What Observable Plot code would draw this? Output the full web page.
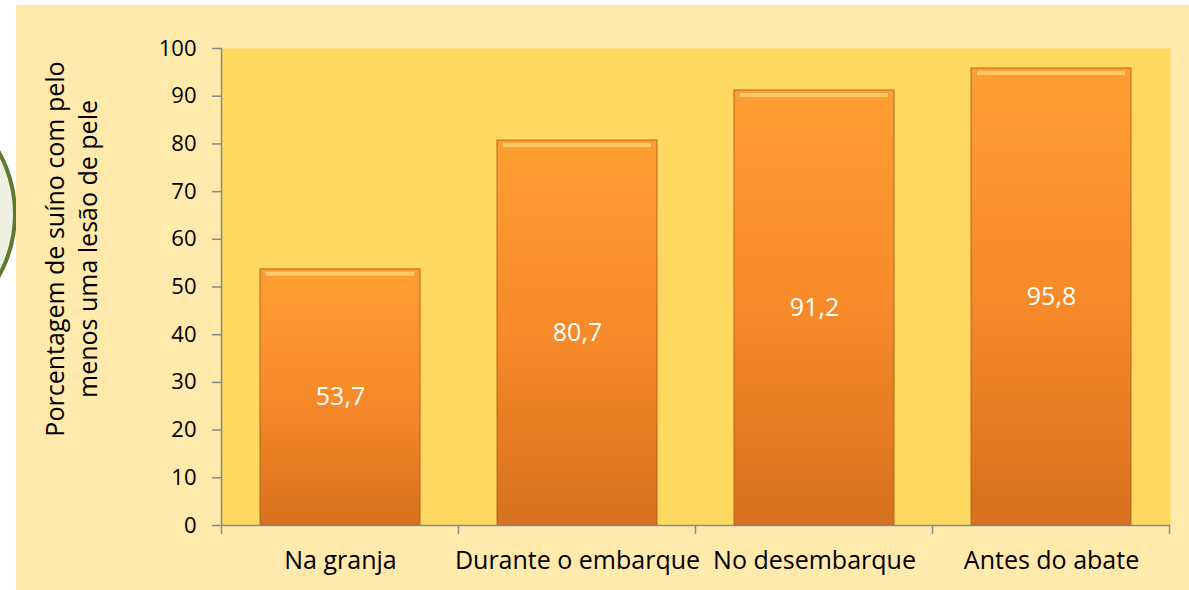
<!DOCTYPE html>
<html><head><meta charset="utf-8">
<script src="https://cdn.jsdelivr.net/npm/d3@7"></script>
<script src="https://cdn.jsdelivr.net/npm/@observablehq/plot@0.6"></script>
<style>
body{margin:0;background:#fff;width:1189px;height:590px;overflow:hidden;position:relative;font-family:"Open Sans",sans-serif}
#circle{position:absolute;left:-241px;top:85px;width:258px;height:258px;box-sizing:border-box;border-radius:50%;border:4px solid #5F7A2F;background:#EEF0E2}
#panel{position:absolute;left:16px;top:5px;width:1173px;height:585px;background:#FFE9AB}
#chart{position:absolute;left:16px;top:5px}
</style></head><body>
<div id="circle"></div>
<div id="panel"></div>
<div id="chart"></div>
<script>
const categories = ["Na granja", "Durante o embarque", "No desembarque", "Antes do abate"];
const values = [53.7, 80.7, 91.2, 95.8];
const yTicks = [0, 10, 20, 30, 40, 50, 60, 70, 80, 90, 100];
const yLabelLines = ["Porcentagem de suíno com pelo", "menos uma lesão de pele"];

const data = categories.map((c, i) => ({cat: c, value: values[i]}));
const fmt = v => v.toFixed(1).replace(".", ",");
const font = "'Open Sans', sans-serif";

const plot = Plot.plot({
  width: 1173,
  height: 585,
  marginLeft: 205,
  marginTop: 43,
  marginRight: 19,
  marginBottom: 65,
  style: {background: "transparent", fontFamily: font, overflow: "visible"},
  x: {type: "band", domain: categories, paddingInner: 0.325, paddingOuter: 0.1625, label: null},
  y: {domain: [0, 100], label: null},
  marks: [
    Plot.frame({fill: "#FFD85F", stroke: null}),
    Plot.barY(data, {x: "cat", y: "value", fill: "url(#barGrad)", stroke: "#A8581A", strokeWidth: 1.4, strokeOpacity: 0.6}),
    Plot.tickY(data, {x: "cat", y: "value", stroke: "#FFCB66", strokeWidth: 4, dy: 4.5, insetLeft: 6, insetRight: 6}),
    Plot.text(data, {x: "cat", y: d => d.value / 2, text: d => fmt(d.value), fill: "white", fontSize: 25}),
    Plot.axisY({ticks: yTicks, tickSize: 9, tickPadding: 16, fontSize: 22, stroke: "#8A8A8A", strokeWidth: 1.5, fill: "#000", label: null}),
    Plot.axisX({tickSize: 0, tickPadding: 26, fontSize: 25, fill: "#000", label: null}),
    Plot.ruleY([0], {stroke: "#8A8A8A", strokeWidth: 1.5}),
    Plot.frame({anchor: "left", stroke: "#8A8A8A", strokeWidth: 1.5})
  ]
});

const svg = d3.select(plot);
const defs = svg.insert("defs", ":first-child");
const g = defs.append("linearGradient").attr("id", "barGrad").attr("x1", 0).attr("y1", 0).attr("x2", 0).attr("y2", 1);
g.append("stop").attr("offset", "0%").attr("stop-color", "#FF9E33");
g.append("stop").attr("offset", "50%").attr("stop-color", "#F78A29");
g.append("stop").attr("offset", "100%").attr("stop-color", "#D7711F");

// category separator ticks, from the x scale
const sx = plot.scale("x");
const sy = plot.scale("y");
const y0 = sy.apply(0);
const bw = sx.bandwidth, step = sx.step;
const bounds = categories.map(c => sx.apply(c) - (step - bw) / 2);
bounds.push(bounds[bounds.length - 1] + step);
svg.append("g").selectAll("line").data(bounds).join("line")
  .attr("x1", d => d).attr("x2", d => d)
  .attr("y1", y0).attr("y2", y0 + 9)
  .attr("stroke", "#8A8A8A").attr("stroke-width", 1.5);

// y label
const yl = svg.append("g").attr("font-family", font).attr("font-size", 25).attr("fill", "#000").attr("text-anchor", "middle");
yLabelLines.forEach((t, i) => {
  yl.append("text").attr("transform", `translate(${48 + i * 33},244) rotate(-90)`).text(t);
});

document.getElementById("chart").appendChild(plot);
</script>
</body></html>
